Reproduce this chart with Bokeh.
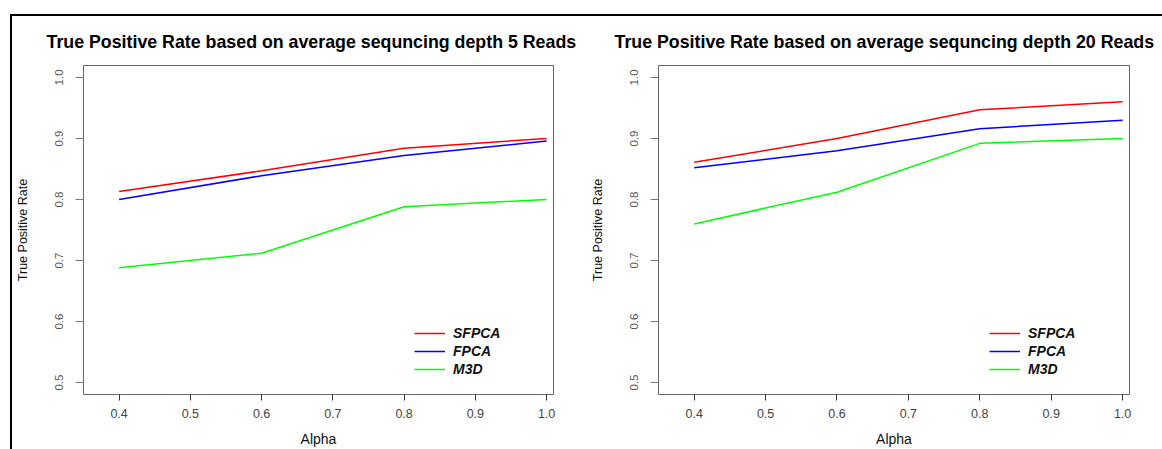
from bokeh.plotting import figure
from bokeh.layouts import row
from bokeh.models import Range1d, FixedTicker, PrintfTickFormatter, Legend, LegendItem
from bokeh.embed import file_html
from bokeh.resources import INLINE

alpha = [0.4, 0.6, 0.8, 1.0]

# depth 5 reads
sfpca_5 = [0.813, 0.847, 0.884, 0.900]
fpca_5 = [0.800, 0.839, 0.872, 0.896]
m3d_5 = [0.688, 0.712, 0.788, 0.800]

# depth 20 reads
sfpca_20 = [0.861, 0.900, 0.947, 0.960]
fpca_20 = [0.852, 0.880, 0.916, 0.930]
m3d_20 = [0.760, 0.812, 0.892, 0.900]

titles = ["True Positive Rate based on average sequncing depth 5 Reads",
          "True Positive Rate based on average sequncing depth 20 Reads"]
series_names = ["SFPCA", "FPCA", "M3D"]
series_colors = ["#ff0000", "#0000ff", "#00ff00"]
x_ticks = [0.4, 0.5, 0.6, 0.7, 0.8, 0.9, 1.0]
y_ticks = [0.5, 0.6, 0.7, 0.8, 0.9, 1.0]

FONT = "Liberation Sans"


def make_panel(title, data, border_left, border_right, title_offset):
    p = figure(width=575, height=433, output_backend="svg", toolbar_location=None,
               x_range=Range1d(0.35, 1.0097), y_range=Range1d(0.4804, 1.0196),
               min_border_left=border_left, min_border_right=border_right,
               min_border_top=48, min_border_bottom=55, title=title)
    p.background_fill_color = "white"
    p.border_fill_color = "white"
    p.grid.visible = False
    p.outline_line_color = "#666666"
    p.outline_line_width = 1

    p.title.text_font = FONT
    p.title.text_font_size = "17.8px"
    p.title.text_font_style = "bold"
    p.title.text_color = "#000000"
    p.title.align = "left"
    p.title.offset = title_offset
    p.title.standoff = 27

    xa = p.xaxis[0]
    xa.ticker = FixedTicker(ticks=x_ticks)
    xa.formatter = PrintfTickFormatter(format="%.1f")
    xa.axis_line_color = None
    xa.major_tick_in = 0
    xa.major_tick_out = 6
    xa.major_tick_line_color = "#333333"
    xa.minor_tick_line_color = None
    xa.major_label_text_font = FONT
    xa.major_label_text_font_size = "12.5px"
    xa.major_label_text_color = "#444444"
    xa.major_label_standoff = 8
    xa.axis_label = "Alpha"
    xa.axis_label_text_font = FONT
    xa.axis_label_text_font_size = "14px"
    xa.axis_label_text_font_style = "normal"
    xa.axis_label_text_color = "#111111"
    xa.axis_label_standoff = 10

    ya = p.yaxis[0]
    ya.ticker = FixedTicker(ticks=y_ticks)
    ya.formatter = PrintfTickFormatter(format="%.1f")
    ya.axis_line_color = None
    ya.major_tick_in = 0
    ya.major_tick_out = 8
    ya.major_tick_line_color = "#777777"
    ya.minor_tick_line_color = None
    ya.major_label_orientation = "vertical"
    ya.major_label_text_font = FONT
    ya.major_label_text_font_size = "11.5px"
    ya.major_label_text_color = "#555555"
    ya.major_label_standoff = 12
    ya.axis_label = "True Positive Rate"
    ya.axis_label_text_font = FONT
    ya.axis_label_text_font_size = "12.5px"
    ya.axis_label_text_font_style = "normal"
    ya.axis_label_text_color = "#111111"
    ya.axis_label_standoff = 23

    items = []
    for name, ys, col in zip(series_names, data, series_colors):
        r = p.line(alpha, ys, line_color=col, line_width=1.5)
        items.append(LegendItem(label=name, renderers=[r]))

    leg = Legend(items=items, location=(331, 16))
    leg.border_line_color = None
    leg.background_fill_alpha = 0
    leg.padding = 0
    leg.margin = 0
    leg.spacing = 0
    leg.glyph_width = 31
    leg.glyph_height = 18
    leg.label_height = 18
    leg.label_standoff = 8
    leg.label_text_font = FONT
    leg.label_text_font_size = "14px"
    leg.label_text_font_style = "bold italic"
    leg.label_text_color = "#111111"
    p.add_layout(leg, "center")
    return p


p1 = make_panel(titles[0], [sfpca_5, fpca_5, m3d_5], 65, 34, -37)
p2 = make_panel(titles[1], [sfpca_20, fpca_20, m3d_20], 66, 33, -44)

layout = row(p1, p2, margin=(14, 0, 0, 10),
             styles={"border-top": "2px solid #000000", "border-left": "2px solid #000000",
                     "background-color": "white"})

open("out.html", "w").write(file_html(layout, INLINE))
